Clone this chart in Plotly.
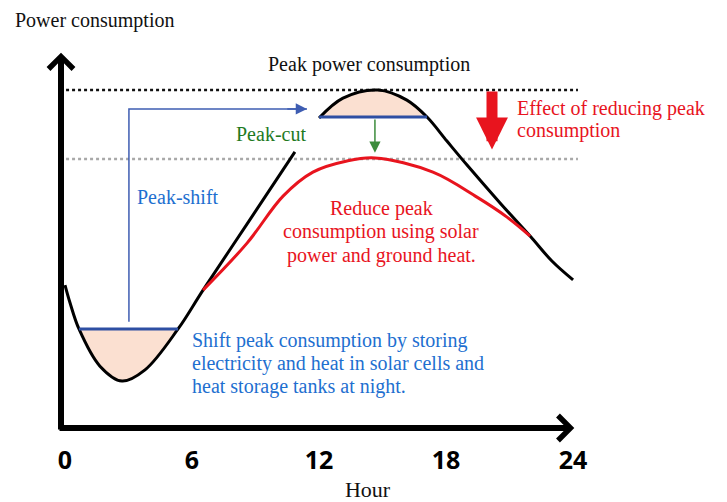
import plotly.graph_objects as go

# ---------------- data ----------------
hour_ticks = [0, 6, 12, 18, 24]
hour_tick_labels = ["0", "6", "12", "18", "24"]

# original demand curve (gap where it passes behind the "Peak-cut" label)
demand_hours = [0.0, 0.24, 0.66, 1.65, 2.69, 3.78, 5.34, 6.52, 8.69, 10.86, None,
                12.0, 13.13, 14.79, 16.15, 17.10, 18.04, 18.99, 20.55, 21.97, 23.0, 24.0]
demand_values = [42.3, 37.0, 29.3, 18.3, 13.9, 17.2, 29.3, 40.8, 61.2, 81.7, None,
                 91.7, 97.6, 100.0, 97.0, 92.0, 84.9, 77.8, 66.6, 56.8, 49.4, 43.8]

# demand with solar power / ground heat
reduced_hours = [6.52, 8.60, 10.30, 11.71, 13.32, 14.64, 17.38, 19.46, 20.88, 21.97]
reduced_values = [40.8, 54.7, 68.6, 75.7, 79.0, 79.9, 75.7, 68.3, 62.4, 56.8]

peak_level = 100.0
reduced_peak_level = 79.6
night_level = 29.3
cut_level = 92.0
reference_span = [0.05, 24.23]

# peak-shift path (night storage -> daytime peak)
shift_hours = [3.02, 3.02, 11.43]
shift_values = [31.4, 94.4, 94.4]
# peak-cut arrow
cut_arrow_hour = 14.64
cut_arrow_values = [91.7, 81.4]
# effect arrow
effect_hour = 20.17
effect_values = [100.0, 82.4]

# ---------------- pixel helpers (layout only) ----------------
# screen pixel -> data; the page body has an 8px margin
PAGE = 8
X0, SX = 65.0, 21.17
Y0, SY = 428.0, 3.38
SCREEN_W, SCREEN_H = 727, 502
W, H = SCREEN_W - PAGE, SCREEN_H - PAGE
PLOT_BOTTOM = 432  # screen px


def hx(px):
    return (px - X0) / SX


def vy(py):
    return (Y0 - py) / SY


SERIF = "Liberation Serif"
BLACK = "#111111"
RED = "#E8141E"
BLUE_TXT = "#1E6FD0"
GREEN_TXT = "#1F7A1F"
LINE_BLUE = "#2E4FA3"
ARROW_BLUE = "#3E5DB2"
ARROW_GREEN = "#3C8C3C"
PEACH = "#FBE0D1"

fig = go.Figure()

# peach fills
night_idx = slice(2, 7)
cut_idx = slice(11, 16)
fig.add_trace(go.Scatter(x=demand_hours[night_idx], y=demand_values[night_idx],
                         mode="lines", line=dict(width=0, shape="spline"),
                         fill="toself", fillcolor=PEACH, hoverinfo="skip"))
fig.add_trace(go.Scatter(x=demand_hours[cut_idx], y=demand_values[cut_idx],
                         mode="lines", line=dict(width=0, shape="spline"),
                         fill="toself", fillcolor=PEACH, hoverinfo="skip"))

# reference dotted levels
fig.add_trace(go.Scatter(x=reference_span, y=[peak_level, peak_level], mode="lines",
                         line=dict(color=BLACK, width=2.5, dash="3px,3px")))
fig.add_trace(go.Scatter(x=reference_span, y=[reduced_peak_level, reduced_peak_level],
                         mode="lines", line=dict(color="#A9A9A9", width=2.5, dash="3px,3px")))

# peak-shift path line
fig.add_trace(go.Scatter(x=shift_hours, y=shift_values, mode="lines",
                         line=dict(color=ARROW_BLUE, width=1.5)))

# curves
fig.add_trace(go.Scatter(x=demand_hours, y=demand_values, mode="lines",
                         line=dict(color="black", width=3, shape="spline"),
                         connectgaps=False))
fig.add_trace(go.Scatter(x=reduced_hours, y=reduced_values, mode="lines",
                         line=dict(color=RED, width=3, shape="spline")))

# blue levels
fig.add_trace(go.Scatter(x=[demand_hours[2], demand_hours[6]], y=[night_level, night_level],
                         mode="lines", line=dict(color=LINE_BLUE, width=3)))
fig.add_trace(go.Scatter(x=[demand_hours[11], demand_hours[15]], y=[cut_level, cut_level],
                         mode="lines", line=dict(color=LINE_BLUE, width=3)))

ann = []
# axis arrows
ann.append(dict(x=hx(61), y=vy(52.7), ax=hx(61), ay=vy(431), xref="x", yref="y",
                axref="x", ayref="y", text="", showarrow=True, arrowhead=4,
                arrowwidth=6, arrowsize=0.8, arrowcolor="black"))
ann.append(dict(x=hx(574.3), y=vy(428), ax=hx(58), ay=vy(428), xref="x", yref="y",
                axref="x", ayref="y", text="", showarrow=True, arrowhead=4,
                arrowwidth=6, arrowsize=0.8, arrowcolor="black"))
# peak-shift arrowhead
ann.append(dict(x=shift_hours[2], y=shift_values[2], ax=shift_hours[2] - 1.0, ay=shift_values[2],
                xref="x", yref="y", axref="x", ayref="y", text="", showarrow=True,
                arrowhead=2, arrowwidth=1.5, arrowsize=1.5, arrowcolor=ARROW_BLUE))
# peak-cut arrow
ann.append(dict(x=cut_arrow_hour, y=cut_arrow_values[1], ax=cut_arrow_hour, ay=cut_arrow_values[0],
                xref="x", yref="y", axref="x", ayref="y", text="", showarrow=True,
                arrowhead=2, arrowwidth=1.5, arrowsize=1.5, arrowcolor=ARROW_GREEN))
# effect arrow
ann.append(dict(x=effect_hour, y=effect_values[1], ax=effect_hour, ay=effect_values[0],
                xref="x", yref="y", axref="x", ayref="y", text="", showarrow=True,
                arrowhead=2, arrowwidth=11, arrowsize=0.58, arrowcolor=RED))


def label(text, px, py, color, anchor="center", size=20, family=SERIF):
    ann.append(dict(x=hx(px), y=vy(py), xref="x", yref="y", text=text, showarrow=False,
                    xanchor=anchor, yanchor="middle",
                    font=dict(family=family, size=size, color=color)))


label("Power consumption", 12.7, 20, BLACK, "left")
label("Peak power consumption", 369, 64, BLACK)
label("Peak-cut", 271, 134, GREEN_TXT)
label("Peak-shift", 177.5, 197, BLUE_TXT)
label("Effect of reducing peak", 515, 108, RED, "left")
label("consumption", 515, 130, RED, "left")
label("Reduce peak", 381, 208, RED)
label("consumption using solar", 381, 231, RED)
label("power and ground heat.", 381, 255, RED)
label("Shift peak consumption by storing", 190, 340, BLUE_TXT, "left")
label("electricity and heat in solar cells and", 190, 363, BLUE_TXT, "left")
label("heat storage tanks at night.", 190, 386, BLUE_TXT, "left")

fig.update_layout(
    width=W, height=H,
    margin=dict(l=0, r=0, t=0, b=SCREEN_H - PLOT_BOTTOM),
    paper_bgcolor="white", plot_bgcolor="white",
    showlegend=False,
    annotations=ann,
    xaxis=dict(range=[hx(PAGE), hx(SCREEN_W)], showgrid=False, zeroline=False, showline=False,
               tickvals=hour_ticks, ticktext=hour_tick_labels, ticks="",
               ticklabelstandoff=11,
               tickfont=dict(family="Noto Sans", size=25, color="black", weight="bold"),
               title=dict(text="Hour", font=dict(family=SERIF, size=22, color=BLACK),
                          standoff=6),
               fixedrange=True),
    yaxis=dict(range=[vy(PLOT_BOTTOM), vy(PAGE)], visible=False, fixedrange=True),
)

fig.write_html("out.html")
